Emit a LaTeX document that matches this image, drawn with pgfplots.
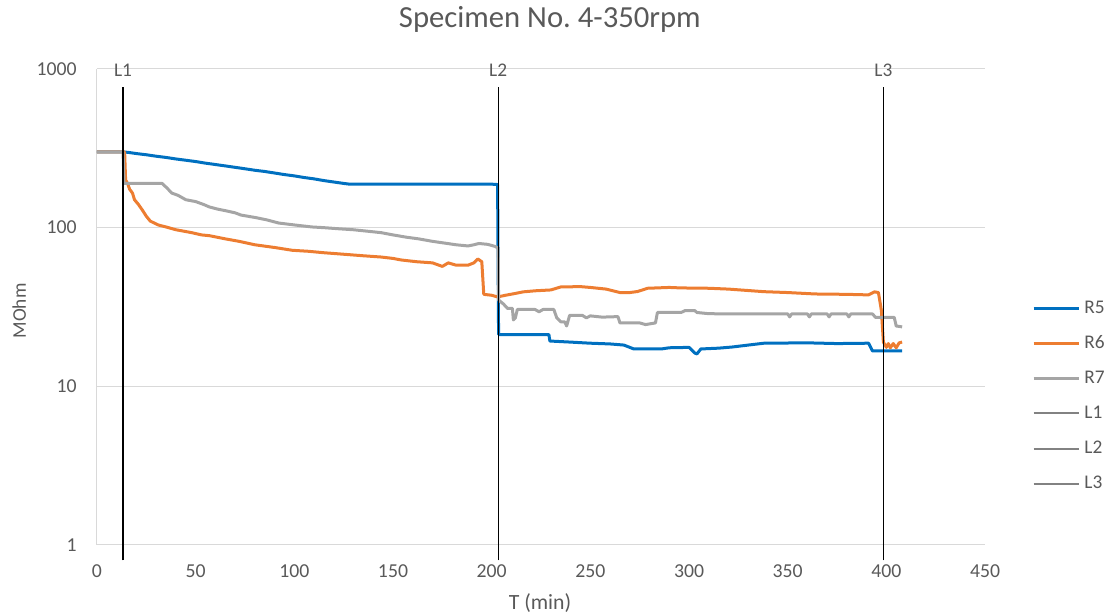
\documentclass[border=0pt]{standalone}
\usepackage{fontspec}
\setmainfont{Carlito}
\usepackage{pgfplots}
\pgfplotsset{compat=1.18}

\definecolor{rblue}{RGB}{0,112,192}
\definecolor{rorange}{RGB}{237,125,49}
\definecolor{rgray}{RGB}{165,165,165}
\definecolor{lgray}{RGB}{130,130,130}
\definecolor{gridgray}{RGB}{217,217,217}
\definecolor{txtgray}{RGB}{89,89,89}

\begin{document}
\frenchspacing
\begin{tikzpicture}
% 1 px of the reference = 0.75pt
\path[use as bounding box] (-72.75pt,-51.75pt) rectangle (759.75pt,408.75pt);
\begin{axis}[
    at={(0,0)}, anchor=south west,
    scale only axis,
    width=666pt, height=357pt,
    xmin=0, xmax=450,
    ymode=log, ymin=1, ymax=1000,
    xtick={0,50,...,450},
    ytick={1,10,100,1000},
    yticklabels={1,10,100,1000},
    yminorticks=false,
    major tick length=0pt, minor tick length=0pt,
    axis lines*=left,
    axis line style={gridgray, line width=0.75pt},
    ymajorgrids,
    grid style={gridgray, line width=0.75pt},
    clip=false,
    /pgf/number format/assume math mode=true,
    tick label style={font=\fontsize{14.8}{17}\selectfont, text=txtgray},
    xticklabel style={anchor=center, yshift=-19.5pt},
    yticklabel style={anchor=east, inner sep=0pt, xshift=-15pt},
    title={Specimen No.\ 4-350rpm},
    title style={at={(axis description cs:0.51,1.0714)}, anchor=base,
        font=\fontsize{23}{27}\selectfont, text=txtgray},
    xlabel={T (min)},
    xlabel style={at={(axis description cs:0.4989,-0.1345)}, anchor=base,
        font=\fontsize{16.3}{19}\selectfont, text=txtgray},
    ylabel={MOhm},
    ylabel style={at={(axis description cs:-0.080,0.4916)}, anchor=base, rotate=0,
        font=\fontsize{14.5}{17}\selectfont, text=txtgray},
    legend style={at={(axis description cs:1.053,0.513)}, anchor=north west,
        draw=none, fill=none, inner sep=0pt, outer sep=0pt,
        font=\fontsize{14.5}{17}\selectfont, text=txtgray,
        nodes={inner sep=0pt}, row sep=15.4pt, column sep=3pt},
    legend cell align=left,
    legend image code/.code={\draw[#1] (0pt,0pt) -- (34pt,0pt);},
    every axis plot/.append style={line join=round},
]

% R5
\addplot[rblue, line width=2.25pt] coordinates {
(0,300)(13.2,300)(16,298)(20,293)(25,288)(30,282)(35,277)(40,271)(45,266)
(50,261)(55,255)(60,250)(65,245)(70,240)(75,235)(80,230)(85,226)(90,221)
(95,216)(100,212)(105,207)(110,203)(115,198)(120,194)(125,190)(128,188)
(150,188)(175,188)(200,188)(203,187)(203.5,21.2)(229,21.2)(229.5,19.3)
(240,19)(250,18.7)(260,18.5)(267,18.2)(270,17.6)(272,17.2)(286,17.2)
(290,17.5)(300,17.6)(303,16.2)(304,16)(306,17.2)(315,17.4)(322,17.7)
(330,18.2)(338,18.7)(360,18.8)(375,18.6)(391,18.7)(393,16.7)(408,16.7)
};
\addlegendentry{R5}

% R6
\addplot[rorange, line width=2.25pt] coordinates {
(0,300)(13.2,300)(14,300)(14.5,200)(15.5,190)(16.5,175)(18,165)(19,150)
(21,140)(23,129)(25,118)(27,110)(31,104)(35,101)(40,97)(44,95)(48,93)
(53,90)(57,89)(61,87)(65,85)(72,82)(80,78)(90,75)(99,72)(107,71)(115,69.5)
(125,68)(135,66.5)(144,65.3)(150,64)(154,62.6)(162,61)(170,60)(175,57)
(178,60)(182,58)(188,58)(191,60)(193,63.5)(195,61)(196,38)(200,37.5)
(203,36.6)(207,37.5)(212,38.5)(216,39.4)(222,40)(230,40.5)(235,42.3)
(245,42.5)(250,42)(258,41)(265,39)(270,39)(274,39.6)(279,41.5)(290,42)
(296,41.7)(310,41.5)(320,41)(338,39.5)(350,39)(364,38.2)(380,38)(391,37.7)
(394,39.4)(396,39)(397.5,30)(398.5,19)(400,17.6)(401,18.6)(402,17.5)
(403.5,18.6)(405,17.5)(406.5,18.8)(408,19)
};
\addlegendentry{R6}

% R7
\addplot[rgray, line width=2.25pt] coordinates {
(0,300)(13.2,300)(13.7,190)(33,190)(35,180)(38,165)(41,160)(45,150)(50,146)
(54,140)(57,135)(61,131)(65,128)(70,124)(73,120)(80,116)(86,112)(92,107)
(100,104)(109,101)(115,100)(122,98.5)(130,97)(137,95)(144,93)(150,90)
(157,87)(163,85)(170,82)(176,80)(182,78)(188,76.7)(191,78)(193.5,79.5)
(198,78.5)(202,76)(203.3,74)(203.5,35)(206,33)(208,31)(210.5,31)(211,26.2)
(212,27)(213,30.5)(222,30.5)(224,29.5)(226,30.5)(231.5,30.5)(233,27)
(235,25.5)(237,25.5)(238,24)(239.5,28)(246,28)(248,27)(250,27.8)(256,27.3)
(264,27.5)(265,25.1)(275,25.1)(278,24.5)(283,25.1)(284,29.2)(296,29.2)
(298,30)(303,30)(304,29.2)(310,28.7)(320,28.6)(350,28.6)(351,27.4)
(352,28.6)(360,28.6)(361,27.4)(362,28.6)(370,28.6)(371,27.4)(372,28.6)
(380,28.6)(381,27.4)(382,28.6)(393,28.6)(394.5,27.2)(404,27.2)(405,24)
(408,23.7)
};
\addlegendentry{R7}

% marker lines
\addplot[black, line width=1pt, legend image post style={lgray, line width=1.5pt}]
    coordinates {(13.2,0.8) (13.2,770)};
\addlegendentry{L1}
\addplot[black, line width=1pt, legend image post style={lgray, line width=1.5pt}]
    coordinates {(203.3,0.8) (203.3,770)};
\addlegendentry{L2}
\addplot[black, line width=1pt, legend image post style={lgray, line width=1.5pt}]
    coordinates {(398.5,0.8) (398.5,770)};
\addlegendentry{L3}

\node[font=\fontsize{14.5}{17}\selectfont, text=txtgray] at (axis cs:13.2,985) {L1};
\node[font=\fontsize{14.5}{17}\selectfont, text=txtgray] at (axis cs:203.3,985) {L2};
\node[font=\fontsize{14.5}{17}\selectfont, text=txtgray] at (axis cs:398.5,985) {L3};
\end{axis}
\end{tikzpicture}
\end{document}
